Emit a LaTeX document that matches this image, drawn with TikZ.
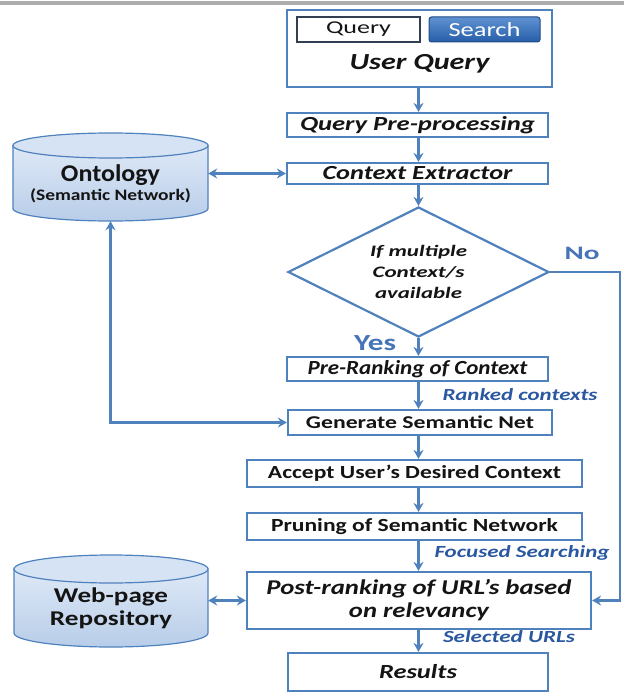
\documentclass[tikz,border=0pt]{standalone}
\usepackage{fontspec}
\setmainfont{Carlito}
\usepackage{graphicx}
\usetikzlibrary{arrows.meta,shapes.geometric}
\definecolor{lineblue}{RGB}{79,129,189}
\definecolor{labblue}{RGB}{42,88,160}
\definecolor{yesblue}{RGB}{70,116,185}
\definecolor{cyltop}{RGB}{222,233,246}
\definecolor{cylbot}{RGB}{184,205,233}
\definecolor{cylcap}{RGB}{214,227,244}
\definecolor{btntop}{RGB}{96,146,210}
\definecolor{btnbot}{RGB}{38,94,168}
\definecolor{txt}{RGB}{20,20,20}
\definecolor{fieldline}{RGB}{50,62,82}
\newcommand\txfw[3]{\resizebox{#1pt}{\height}{\fontsize{#2}{#2}\selectfont #3}}
\newcommand\txbi[3]{\txfw{#1}{#2}{\bfseries\itshape #3}}
\newcommand\txbb[3]{\txfw{#1}{#2}{\bfseries #3}}
\newcommand\dbcyl[5]{%
  \shadedraw[top color=cyltop, bottom color=cylbot, draw=lineblue, line width=1.2pt]
   ({#1-#2},{#3+#5}) -- ({#1-#2},{#4-#5}) arc[start angle=180,end angle=360,x radius=#2 pt,y radius=#5 pt] -- ({#1+#2},{#3+#5}) -- cycle;
  \filldraw[fill=cylcap, draw=lineblue, line width=1.2pt] (#1,{#3+#5}) ellipse[x radius=#2 pt, y radius=#5 pt];
}
\begin{document}
\begin{tikzpicture}[x=1pt,y=-1pt,
 box/.style={draw=lineblue, line width=2.2pt, fill=white, inner sep=0pt, align=center, text=txt},
 arr/.style={draw=lineblue, line width=2.6pt, -{Stealth[length=9pt,width=10pt,inset=3pt]}},
 darr/.style={draw=lineblue, line width=2.6pt, {Stealth[length=9pt,width=10pt,inset=3pt]}-{Stealth[length=9pt,width=10pt,inset=3pt]}},
 lab/.style={text=labblue, inner sep=0pt},
 yn/.style={text=yesblue, inner sep=0pt},
 anchorbox/.style={inner sep=0pt, draw=none}
]
\useasboundingbox (0,0) rectangle (624,693);
\fill[gray!65] (0,1.5) rectangle (624,5);

% databases
\dbcyl{110.5}{97.5}{133}{221}{12.5}
\dbcyl{111}{97}{555}{647}{14}
\node[anchorbox, minimum width=195pt, minimum height=88pt] (onto) at (110.5,177) {};
\node[text=txt, inner sep=0pt] (ontot) at (110.5,175) {\txbb{99}{24}{Ontology}};
\node[text=txt, inner sep=0pt] (ontos) at (110.5,196) {\txbb{161}{16}{(Semantic Network)}};
\node[anchorbox, minimum width=194pt, minimum height=92pt] (web) at (111,601) {};
\node[text=txt, inner sep=0pt, align=center, font=\fontsize{21}{23}\selectfont] (webt) at (111,608.5) {\txbb{114}{21}{Web-page}\\\txbb{122}{21}{Repository}};

% user query
\node[box, minimum width=265pt, minimum height=77pt] (UQ) at (419.5,48.5) {};
\node[draw=fieldline, line width=1.8pt, fill=white, minimum width=123pt, minimum height=25pt, inner sep=0pt, text=txt] (qf) at (358.5,29.5) {\txfw{65}{18}{Query}};
\node[draw=btnbot!80!black, line width=1pt, top color=btntop, bottom color=btnbot, rounded corners=2.5pt, minimum width=111pt, minimum height=25pt, inner sep=0pt, text=white] (sb) at (484.5,29.5) {\txfw{72}{20}{Search}};
\node[inner sep=0pt, text=txt] (uqt) at (419.5,64) {\txbi{140}{23}{User Query}};

% flow boxes
\node[box, minimum width=261pt, minimum height=24pt] (QP) at (417.5,125) {\txbi{235}{20}{Query Pre-processing}};
\node[box, minimum width=261pt, minimum height=21pt] (CE) at (417.5,173.5) {\txbi{190}{20}{Context Extractor}};
\node[box, diamond, aspect=2, minimum width=261pt, minimum height=130pt, font=\fontsize{16}{21}\selectfont] (DI) at (418.5,272) {\txbi{97}{16}{If multiple}\\\txbi{92}{16}{Context/s}\\\txbi{87}{16}{available}};
\node[box, minimum width=261pt, minimum height=24pt] (PR) at (417.5,369) {\txbi{220}{20}{Pre-Ranking of Context}};
\node[box, minimum width=264pt, minimum height=25pt] (GS) at (420,422.5) {\txbb{228}{18}{Generate Semantic Net}};
\node[box, minimum width=335pt, minimum height=27pt] (AU) at (414.5,473.5) {\txbb{293}{18.5}{Accept User’s Desired Context}};
\node[box, minimum width=335pt, minimum height=27pt] (PS) at (414.5,526.5) {\txbb{287}{18.5}{Pruning of Semantic Network}};
\node[box, minimum width=344pt, minimum height=57pt, font=\fontsize{21}{23}\selectfont] (PO) at (419,600.5) {\txbi{305}{21}{Post-ranking of URL’s based}\\\txbi{140}{21}{on relevancy}};
\node[box, minimum width=260pt, minimum height=38pt] (RE) at (418,672) {\txbi{78}{20}{Results}};

% labels
\node[lab] (rk) at (520,395) {\txbi{155}{17}{Ranked contexts}};
\node[lab] (fs) at (522,553) {\txbi{175}{17}{Focused Searching}};
\node[lab] (su) at (509,637) {\txbi{132}{17}{Selected URLs}};
\node[yn] (no) at (582,253) {\txbb{35}{19}{No}};
\node[yn] (yes) at (375,343) {\txbb{42}{23}{Yes}};

% connectors
\coordinate (ax) at (418.5,0);
\draw[arr] (UQ.south -| ax) -- (QP.north -| ax);
\draw[arr] (QP.south -| ax) -- (CE.north -| ax);
\draw[arr] (CE.south -| ax) -- (DI.north);
\draw[arr] (DI.south) -- (PR.north -| ax);
\draw[arr] (PR.south -| ax) -- (GS.north -| ax);
\draw[arr] (GS.south -| ax) -- (AU.north -| ax);
\draw[arr] (AU.south -| ax) -- (PS.north -| ax);
\draw[arr] (PS.south -| ax) -- (PO.north -| ax);
\draw[arr] (PO.south -| ax) -- (RE.north -| ax);
\coordinate (nc) at (620,272);
\draw[arr] (DI.east) -- (nc) |- (PO.east);
\draw[darr] (CE.west) -- (CE.west -| onto.east);
\draw[darr] (onto.south) |- (GS.west);
\draw[darr] (PO.west) -- (PO.west -| web.east);
\end{tikzpicture}
\end{document}
